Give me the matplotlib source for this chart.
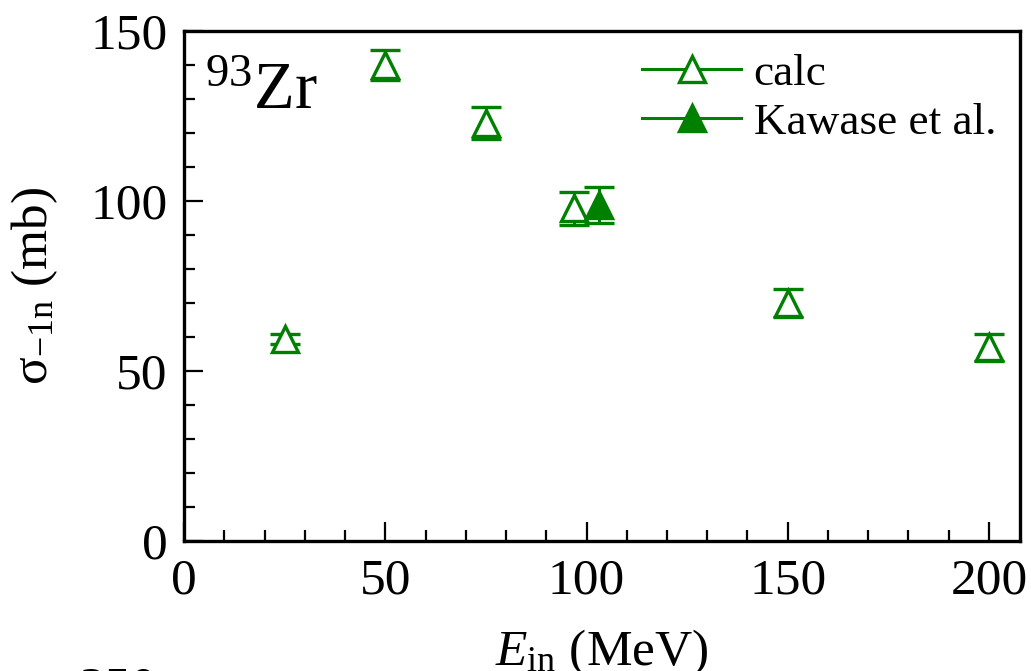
import matplotlib
matplotlib.use("Agg")
import matplotlib.pyplot as plt
from matplotlib.lines import Line2D
from matplotlib.ticker import MultipleLocator

# Incident energy (MeV) and one-neutron removal cross sections (mb)
calc_energy = [25, 50, 75, 97, 150, 200]
calc_sigma = [59.5, 140.0, 123.0, 97.8, 70.0, 57.0]
calc_err = [1.5, 4.5, 4.7, 4.8, 4.0, 4.0]

kawase_energy = [103]
kawase_sigma = [98.8]
kawase_err = [5.2]

x_ticks = [0, 50, 100, 150, 200]
y_ticks = [0, 50, 100, 150]

green = "#008000"

plt.rcParams["font.family"] = ["Liberation Serif", "DejaVu Serif"]
plt.rcParams["mathtext.fontset"] = "custom"
plt.rcParams["mathtext.rm"] = "Liberation Serif"
plt.rcParams["mathtext.it"] = "Liberation Serif:italic"

fig = plt.figure(figsize=(10.31, 6.71), dpi=100)
ax = fig.add_axes([0.1785, 0.1937, 0.9893 - 0.1785, 0.9538 - 0.1937])

common = dict(fmt="^", color=green, ms=19, mew=2.4, elinewidth=2.2,
              capsize=10.8, capthick=2.2, linestyle="none")
ax.errorbar(calc_energy, calc_sigma, yerr=calc_err, mfc="white", mec=green, **common)
ax.errorbar(kawase_energy, kawase_sigma, yerr=kawase_err, mfc=green, mec=green, **common)

ax.set_xlim(0, 207.7)
ax.set_ylim(0, 150)
ax.set_xticks(x_ticks)
ax.set_yticks(y_ticks)
ax.xaxis.set_minor_locator(MultipleLocator(10))
ax.yaxis.set_minor_locator(MultipleLocator(10))
ax.tick_params(which="both", direction="in", labelsize=37, width=1.6)
ax.tick_params(which="major", length=14)
ax.tick_params(which="minor", length=8)
ax.tick_params(axis="y", pad=12)
ax.tick_params(axis="x", pad=12)
for sp in ax.spines.values():
    sp.set_linewidth(2.4)

ax.set_xlabel(r"$E_{\mathrm{in}}$ (MeV)", fontsize=37, labelpad=17)
ax.set_ylabel(r"σ$_{\mathrm{-1n}}$ (mb)", fontsize=37, labelpad=22)

ax.text(0.025, 0.94, r"$^{93}$Zr", transform=ax.transAxes, fontsize=48,
        ha="left", va="top")

handles = [
    Line2D([], [], color=green, lw=2.2, marker="^", ms=19, mew=2.4, mfc="white", mec=green),
    Line2D([], [], color=green, lw=2.2, marker="^", ms=19, mew=2.4, mfc=green, mec=green),
]
ax.legend(handles, ["calc", "Kawase et al."], loc="upper left", frameon=False,
          fontsize=32.5, handlelength=2.2, handletextpad=0.27, labelspacing=0.2,
          borderpad=0, borderaxespad=0, bbox_to_anchor=(0.548, 0.957))

# Top of the next panel's tick label, cut by the lower edge
fig.text(157 / 1031, -0.045, "250", fontsize=37, ha="right", va="baseline")

fig.savefig("out.png", dpi=100)
